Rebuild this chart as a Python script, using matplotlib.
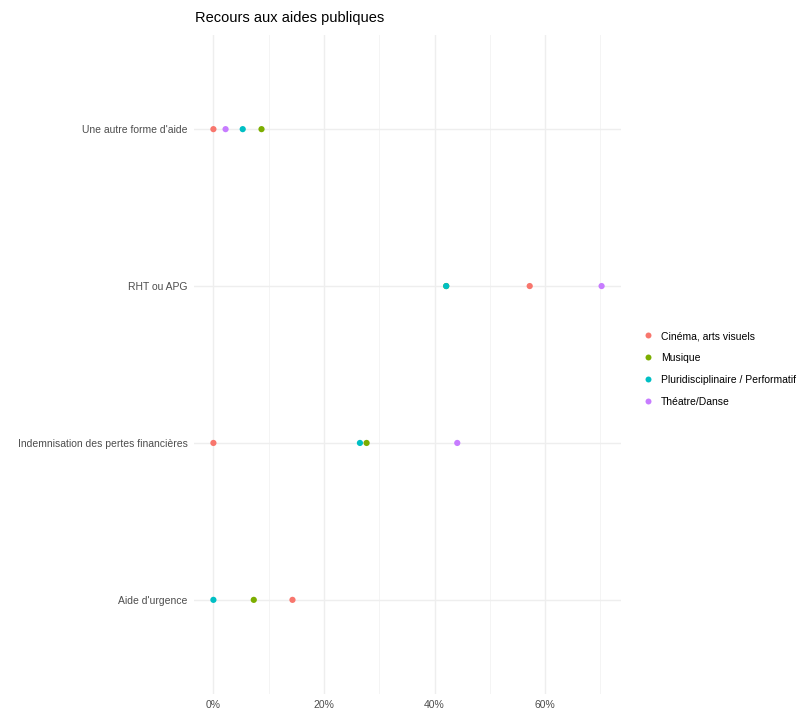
import numpy as np
import matplotlib.pyplot as plt
from matplotlib.lines import Line2D

plt.rcParams['font.family'] = ['Liberation Sans', 'DejaVu Sans']

# categories from bottom to top
categories = ["Aide d'urgence", "Indemnisation des pertes financières",
              "RHT ou APG", "Une autre forme d'aide"]
series = ["Cinéma, arts visuels", "Musique",
          "Pluridisciplinaire / Performatif", "Théatre/Danse"]
colors = ["#F8766D", "#7CAE00", "#00BFC4", "#C77CFF"]

# share (%) per series, same order as categories
cinema = [14.3, 0.0, 57.2, 0.0]
musique = [7.3, 27.7, 42.1, 8.7]
pluri = [0.0, 26.5, 42.1, 5.3]
theatre = [np.nan, 44.1, 70.2, 2.2]
values = [cinema, musique, pluri, theatre]

fig = plt.figure(figsize=(8.1, 7.13), dpi=100)
ax = fig.add_axes([194/810, 1-694/713, (621-194)/810, (694-35)/713])

y = np.arange(len(categories))
for vals, col in zip(values, colors):
    ax.scatter(vals, y, s=20, color=col, edgecolors='none', zorder=3)

ax.set_xlim(-3.51, 73.71)
ax.set_ylim(-0.6, len(categories) - 0.4)
ax.set_xticks([0, 20, 40, 60])
ax.set_xticklabels(["0%", "20%", "40%", "60%"])
ax.set_xticks([10, 30, 50, 70], minor=True)
ax.set_yticks(y)
ax.set_yticklabels(categories)
ax.grid(True, which='major', color='#EEEEEE', lw=1.0, zorder=0)
ax.grid(True, which='minor', axis='x', color='#F4F4F4', lw=0.7, zorder=0)
for s in ax.spines.values():
    s.set_visible(False)
ax.tick_params(which='both', length=0, labelsize=7.5, labelcolor='#4D4D4D', pad=4.5)

fig.text(195/810, 1-18/713, "Recours aux aides publiques", fontsize=10.5,
         ha='left', va='center', color='black')

handles = [Line2D([], [], marker='o', ls='none', color=c, markersize=4.3,
                  markeredgewidth=0) for c in colors]
fig.legend(handles, series, loc='center left', bbox_to_anchor=(637/810, 1-369/713),
           frameon=False, fontsize=7.5, labelspacing=1.15, handletextpad=0.6,
           handlelength=1.2, borderpad=0)

fig.savefig("out.png", dpi=100)
